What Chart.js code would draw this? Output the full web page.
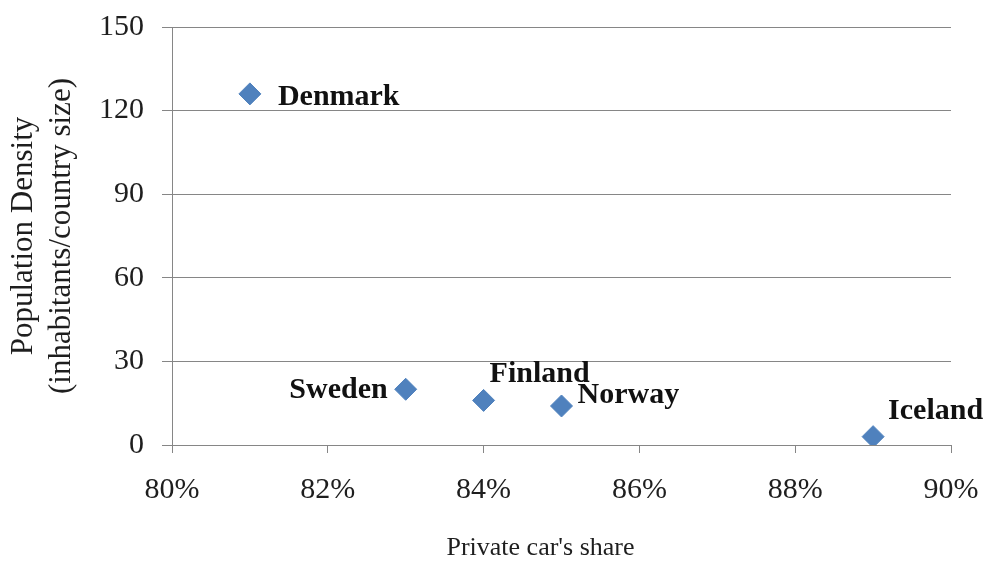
<!DOCTYPE html>
<html>
<head>
<meta charset="utf-8">
<script src="https://cdn.jsdelivr.net/npm/chart.js@4/dist/chart.umd.min.js"></script>
<style>
  html, body { margin: 0; padding: 0; background: #ffffff; }
  #wrap { width: 993px; height: 562px; position: relative; }
</style>
</head>
<body>
<div id="wrap"><canvas id="chart"></canvas></div>
<script>
// Nordic countries: share of trips by private car vs. population density
const countries   = ['Denmark', 'Sweden', 'Finland', 'Norway', 'Iceland'];
const carShare    = [81, 83, 84, 85, 89];       // percent
const popDensity  = [126, 20, 16, 14, 3];       // inhabitants per km²
const xTickValues = [80, 82, 84, 86, 88, 90];
const xTickLabels = ['80%', '82%', '84%', '86%', '88%', '90%'];
const yTickValues = [0, 30, 60, 90, 120, 150];
const xAxisTitle  = "Private car's share";

const SERIF = '"Liberation Serif", "Times New Roman", serif';
const GRID = '#868686';
const INK = '#1e1e1e';

// Where each country name sits relative to its marker
const labelPlacement = {
  Denmark: { dx: 28,  dy: 3,   align: 'left'  },
  Sweden:  { dx: -18, dy: 1,   align: 'right' },
  Finland: { dx: 6,   dy: -26, align: 'left'  },
  Norway:  { dx: 16,  dy: -11, align: 'left'  },
  Iceland: { dx: 15,  dy: -25, align: 'left'  }
};

// Country names beside the markers, plus the x-axis caption set slightly left of centre
const annotations = {
  id: 'annotations',
  afterDatasetsDraw(chart) {
    const ctx = chart.ctx;
    const meta = chart.getDatasetMeta(0);
    ctx.save();
    ctx.font = 'bold 30px ' + SERIF;
    ctx.fillStyle = '#111111';
    ctx.textBaseline = 'middle';
    meta.data.forEach((pt, i) => {
      const name = countries[i];
      const p = labelPlacement[name];
      ctx.textAlign = p.align;
      ctx.fillText(name, pt.x + p.dx, pt.y + p.dy);
    });

    const area = chart.chartArea;
    ctx.font = '26px ' + SERIF;
    ctx.fillStyle = INK;
    ctx.textAlign = 'center';
    ctx.fillText(xAxisTitle, (area.left + area.right) / 2 - 21, chart.height - 14);
    ctx.restore();
  }
};

new Chart(document.getElementById('chart'), {
  type: 'scatter',
  data: {
    datasets: [{
      label: 'Countries',
      data: carShare.map((x, i) => ({ x: x, y: popDensity[i] })),
      pointStyle: 'rectRot',
      pointRadius: 11,
      pointHoverRadius: 11,
      backgroundColor: '#4F81BD',
      borderColor: '#4F81BD',
      borderWidth: 1
    }]
  },
  options: {
    responsive: true,
    maintainAspectRatio: false,
    animation: false,
    layout: { padding: { top: 27, right: 42, left: 0, bottom: 0 } },
    plugins: {
      legend: { display: false },
      tooltip: { enabled: false }
    },
    scales: {
      x: {
        type: 'linear',
        min: 80,
        max: 90,
        afterBuildTicks(scale) { scale.ticks = xTickValues.map(v => ({ value: v })); },
        afterFit(scale) {
          scale.height = 117;
          scale.paddingLeft = 0;
          scale.paddingRight = 0;
        },
        ticks: {
          callback: (v) => xTickLabels[xTickValues.indexOf(v)] ?? '',
          font: { family: SERIF, size: 30 },
          color: INK,
          padding: 19,
          maxRotation: 0
        },
        grid: {
          drawOnChartArea: false,
          drawTicks: true,
          tickLength: 8,
          color: GRID,
          lineWidth: 1
        },
        border: { display: true, color: GRID, width: 1 },
        title: { display: false }
      },
      y: {
        type: 'linear',
        min: 0,
        max: 150,
        afterBuildTicks(scale) { scale.ticks = yTickValues.map(v => ({ value: v })); },
        afterFit(scale) {
          scale.width = 172;
          scale.paddingTop = 0;
          scale.paddingBottom = 0;
        },
        ticks: {
          font: { family: SERIF, size: 30 },
          color: INK,
          padding: 18
        },
        grid: {
          drawTicks: true,
          tickLength: 10,
          color: GRID,
          lineWidth: 1
        },
        border: { display: true, color: GRID, width: 1 },
        title: {
          display: true,
          text: ['Population Density', '(inhabitants/country size)'],
          font: { family: SERIF, size: 31, lineHeight: 1.22 },
          color: INK,
          padding: { top: 5, bottom: 0 }
        }
      }
    }
  },
  plugins: [annotations]
});
</script>
</body>
</html>
